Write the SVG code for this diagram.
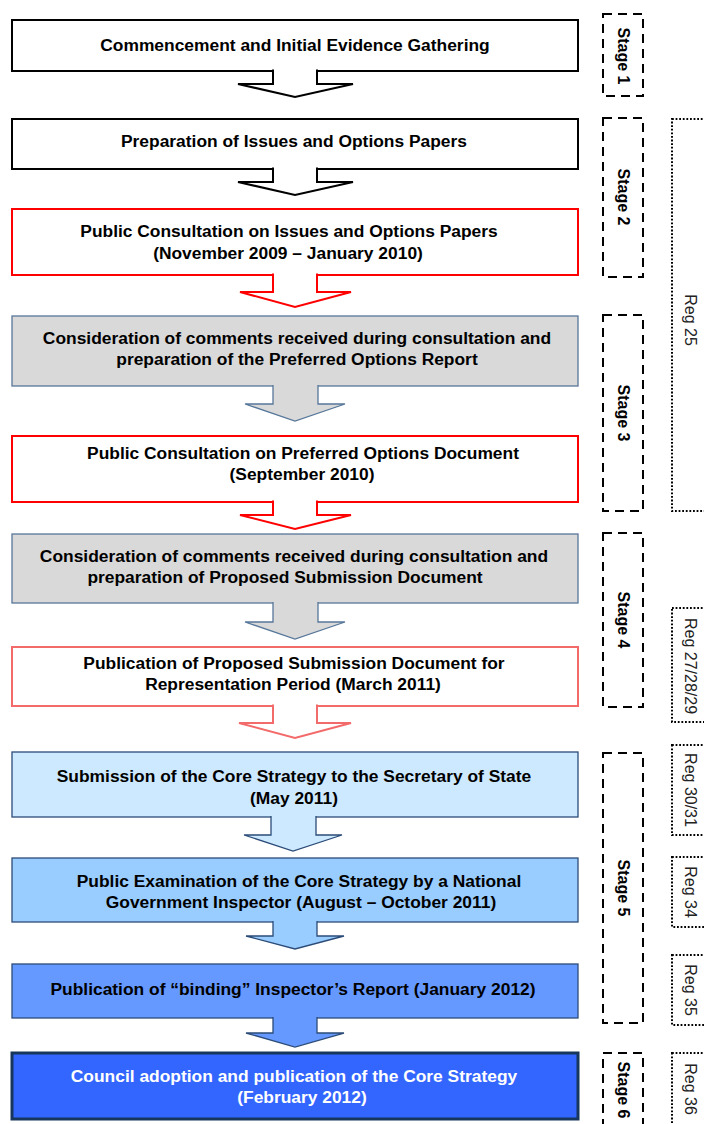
<svg xmlns="http://www.w3.org/2000/svg" width="704" height="1124" viewBox="0 0 704 1124">
  <style>
    .t { font-family: "Liberation Sans", Arial, sans-serif; font-weight: bold; font-size: 17.4px; fill: #000; text-anchor: middle; }
    .tw { fill: #fff; }
    .stage { font-family: "Liberation Sans", Arial, sans-serif; font-weight: bold; font-size: 16px; fill: #000; text-anchor: middle; dominant-baseline: central; }
    .reg { font-family: "Liberation Sans", Arial, sans-serif; font-size: 16px; fill: #222; text-anchor: middle; dominant-baseline: central; }
    .sbox { fill: none; stroke: #000; stroke-width: 2; stroke-dasharray: 9 6; }
    .rbox { fill: none; stroke: #000; stroke-width: 2; stroke-dasharray: 1.8 1.8; }
    .plain { fill: #fff; stroke: #000; stroke-width: 2; }
    .red { fill: #fff; stroke: #ff0000; stroke-width: 2; }
    .pink { fill: #fff; stroke: #f36a6a; stroke-width: 2; }
    .grey { fill: #d9d9d9; stroke: #57779a; stroke-width: 1.3; }
    .blue1 { fill: #cde9ff; stroke: #2b4c78; stroke-width: 1.3; }
    .blue2 { fill: #99ccff; stroke: #2b4c78; stroke-width: 1.3; }
    .blue3 { fill: #6699ff; stroke: #2b4c78; stroke-width: 1.3; }
    .blue4 { fill: #3366ff; stroke: #17365d; stroke-width: 3; }
  </style>

  <!-- process steps -->
  <g id="step1">
    <rect class="plain" x="12" y="20" width="566" height="51"/>
    <text class="t" x="295" y="51">Commencement and Initial Evidence Gathering</text>
  </g>
  <g id="step2">
    <rect class="plain" x="12" y="119" width="566" height="50"/>
    <text class="t" x="294" y="147">Preparation of Issues and Options Papers</text>
  </g>
  <g id="step3">
    <rect class="red" x="12" y="209" width="566" height="66"/>
    <text class="t" x="289" y="237">Public Consultation on Issues and Options Papers</text>
    <text class="t" x="288" y="259">(November 2009 – January 2010)</text>
  </g>
  <g id="step4">
    <rect class="grey" x="12" y="316" width="566" height="70"/>
    <text class="t" x="297" y="344">Consideration of comments received during consultation and</text>
    <text class="t" x="297" y="365">preparation of the Preferred Options Report</text>
  </g>
  <g id="step5">
    <rect class="red" x="12" y="436" width="566" height="66"/>
    <text class="t" x="303" y="459">Public Consultation on Preferred Options Document</text>
    <text class="t" x="302" y="480">(September 2010)</text>
  </g>
  <g id="step6">
    <rect class="grey" x="12" y="534" width="566" height="69"/>
    <text class="t" x="294" y="562">Consideration of comments received during consultation and</text>
    <text class="t" x="285" y="583">preparation of Proposed Submission Document</text>
  </g>
  <g id="step7">
    <rect class="pink" x="12" y="647" width="566" height="59"/>
    <text class="t" x="294" y="669">Publication of Proposed Submission Document for</text>
    <text class="t" x="293" y="690">Representation Period (March 2011)</text>
  </g>
  <g id="step8">
    <rect class="blue1" x="12" y="752" width="566" height="65"/>
    <text class="t" x="294" y="782">Submission of the Core Strategy to the Secretary of State</text>
    <text class="t" x="294" y="804">(May 2011)</text>
  </g>
  <g id="step9">
    <rect class="blue2" x="12" y="858" width="566" height="64"/>
    <text class="t" x="299" y="887">Public Examination of the Core Strategy by a National</text>
    <text class="t" x="301" y="908">Government Inspector (August – October 2011)</text>
  </g>
  <g id="step10">
    <rect class="blue3" x="12" y="964" width="566" height="54"/>
    <text class="t" x="293" y="995">Publication of “binding” Inspector’s Report (January 2012)</text>
  </g>
  <g id="step11">
    <rect class="blue4" x="12" y="1053" width="566" height="66"/>
    <text class="t tw" x="294" y="1082">Council adoption and publication of the Core Strategy</text>
    <text class="t tw" x="302" y="1103">(February 2012)</text>
  </g>

  <!-- block arrows joining the steps (open at the top so they merge into the box above) -->
  <g id="connectors">
    <path class="plain" d="M273,69.5 V84 H238 L295,97 L353,84 H317 V69.5"/>
    <path class="plain" d="M273,167.5 V182 H238 L295,195 L353,182 H317 V167.5"/>
    <path class="red" d="M273,273.5 V292 H240 L295,307 L351,292 H317 V273.5"/>
    <path class="grey" d="M273,385 V404 H245 L295,421 L345,404 H318 V385"/>
    <path class="red" d="M273,500.5 V515 H240 L295,529 L351,515 H317 V500.5"/>
    <path class="grey" d="M273,602 V622 H245 L295,639 L345,622 H318 V602"/>
    <path class="pink" d="M273,704.5 V723 H239 L295,738 L351,723 H317 V704.5"/>
    <path class="blue1" d="M271,816 V835 H244 L293,851 L342,835 H316 V816"/>
    <path class="blue2" d="M273,921 V936 H246 L295,949 L344,936 H317 V921"/>
    <path class="blue3" d="M273,1017 V1033 H246 L295,1047 L344,1033 H317 V1017"/>
  </g>

  <!-- stage brackets -->
  <g id="stage1">
    <rect class="sbox" x="603" y="14" width="40" height="82"/>
    <text class="stage" transform="translate(623,56) rotate(90)">Stage 1</text>
  </g>
  <g id="stage2">
    <rect class="sbox" x="603" y="118" width="40" height="159"/>
    <text class="stage" transform="translate(623,197) rotate(90)">Stage 2</text>
  </g>
  <g id="stage3">
    <rect class="sbox" x="603" y="315" width="40" height="196"/>
    <text class="stage" transform="translate(623,413) rotate(90)">Stage 3</text>
  </g>
  <g id="stage4">
    <rect class="sbox" x="603" y="533" width="40" height="174"/>
    <text class="stage" transform="translate(623,620) rotate(90)">Stage 4</text>
  </g>
  <g id="stage5">
    <rect class="sbox" x="603" y="753" width="40" height="270"/>
    <text class="stage" transform="translate(623,888) rotate(90)">Stage 5</text>
  </g>
  <g id="stage6">
    <rect class="sbox" x="603" y="1053" width="40" height="80"/>
    <text class="stage" transform="translate(623,1090) rotate(90)">Stage 6</text>
  </g>

  <!-- regulation brackets -->
  <g id="reg25">
    <rect class="rbox" x="672" y="119" width="44" height="392"/>
    <text class="reg" transform="translate(690,320) rotate(90)">Reg 25</text>
  </g>
  <g id="reg27">
    <rect class="rbox" x="672" y="608" width="44" height="114"/>
    <text class="reg" transform="translate(690,666) rotate(90)">Reg 27/28/29</text>
  </g>
  <g id="reg30">
    <rect class="rbox" x="672" y="745" width="44" height="90"/>
    <text class="reg" transform="translate(690,790) rotate(90)">Reg 30/31</text>
  </g>
  <g id="reg34">
    <rect class="rbox" x="672" y="857" width="44" height="70"/>
    <text class="reg" transform="translate(690,892) rotate(90)">Reg 34</text>
  </g>
  <g id="reg35">
    <rect class="rbox" x="672" y="955" width="44" height="70"/>
    <text class="reg" transform="translate(690,990) rotate(90)">Reg 35</text>
  </g>
  <g id="reg36">
    <rect class="rbox" x="672" y="1053" width="44" height="90"/>
    <text class="reg" transform="translate(690,1089) rotate(90)">Reg 36</text>
  </g>
</svg>
